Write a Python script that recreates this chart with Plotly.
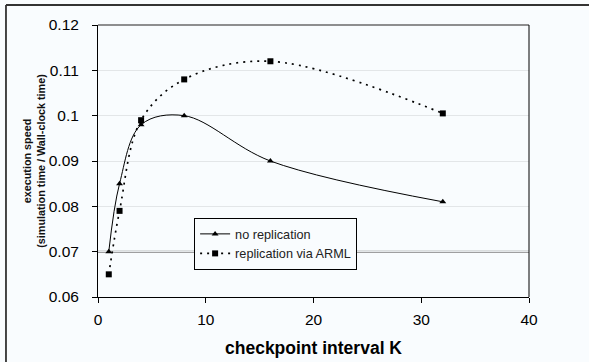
import plotly.graph_objects as go

k_values = [1, 2, 4, 8, 16, 32]
no_replication = [0.070, 0.085, 0.098, 0.100, 0.090, 0.081]
replication_arml = [0.065, 0.079, 0.099, 0.108, 0.112, 0.1005]
y_ticks = [0.06, 0.07, 0.08, 0.09, 0.1, 0.11, 0.12]
y_tick_labels = ["0.06", "0.07", "0.08", "0.09", "0.1", "0.11", "0.12"]
x_ticks = [0, 10, 20, 30, 40]

bg = "#f9fcfe"
fig = go.Figure()
fig.add_trace(go.Scatter(
    x=k_values, y=no_replication, name="no replication", legendgroup="a",
    mode="lines+markers", line=dict(color="black", width=1, shape="spline", smoothing=1.0),
    marker=dict(symbol="triangle-up", size=6, color="black"),
))
fig.add_trace(go.Scatter(
    x=k_values, y=replication_arml, name="replication via ARML", legendgroup="b",
    mode="lines+markers", line=dict(color="black", width=1.7, dash="2px,5px", shape="spline", smoothing=1.0),
    marker=dict(symbol="square", size=6, color="black"),
))

font = "Liberation Sans, Arial, sans-serif"
fig.update_layout(
    width=589, height=362,
    margin=dict(l=98, r=60, t=25, b=65),
    paper_bgcolor=bg, plot_bgcolor=bg,
    font=dict(family=font, size=15.5, color="black"),
    showlegend=True,
    legend=dict(x=0.223, y=0.29, xanchor="left", yanchor="top",
                bgcolor=bg, bordercolor="black", borderwidth=1,
                font=dict(size=12.7, color="#222222"), tracegroupgap=0, itemwidth=30),
    xaxis=dict(range=[0, 40], tickvals=x_ticks, showgrid=False, zeroline=False,
               showline=True, linecolor="black", linewidth=1, automargin=False,
               ticks="outside", ticklen=5, tickcolor="black", ticklabelstandoff=3,
               title=dict(text="<b>checkpoint interval K</b>", font=dict(size=17.5), standoff=15)),
    yaxis=dict(range=[0.06, 0.12], tickvals=y_ticks, ticktext=y_tick_labels,
               showgrid=True, gridcolor="#e3e6e8", gridwidth=1, zeroline=False,
               showline=True, linecolor="black", linewidth=1, automargin=False,
               ticks="outside", ticklen=5, tickcolor="black", ticklabelstandoff=10,
               title=dict(text="<b>execution speed<br>(simulation time / Wall-clock time)</b>",
                          font=dict(size=10.8, color="#111111"),
                          standoff=0)),
    shapes=[
        dict(type="line", xref="paper", yref="y", x0=0, x1=1, y0=0.07, y1=0.07,
             line=dict(color="#808080", width=2), layer="below"),
        dict(type="line", xref="paper", yref="paper", x0=0, x1=1, y0=1, y1=1,
             line=dict(color="#6a6a6a", width=1.5)),
        dict(type="line", xref="paper", yref="paper", x0=1, x1=1, y0=0, y1=1,
             line=dict(color="black", width=1)),
        dict(type="line", xref="paper", yref="paper", x0=-0.2135, x1=1.2, y0=1.0735, y1=1.0735,
             line=dict(color="#333333", width=1.8)),
        dict(type="line", xref="paper", yref="paper", x0=-0.2135, x1=-0.2135, y0=-0.3, y1=1.0735,
             line=dict(color="#333333", width=1.8)),
    ],
)
fig.write_html("out.html", config={"displayModeBar": False},
               post_script="document.body.style.margin='0px';")
